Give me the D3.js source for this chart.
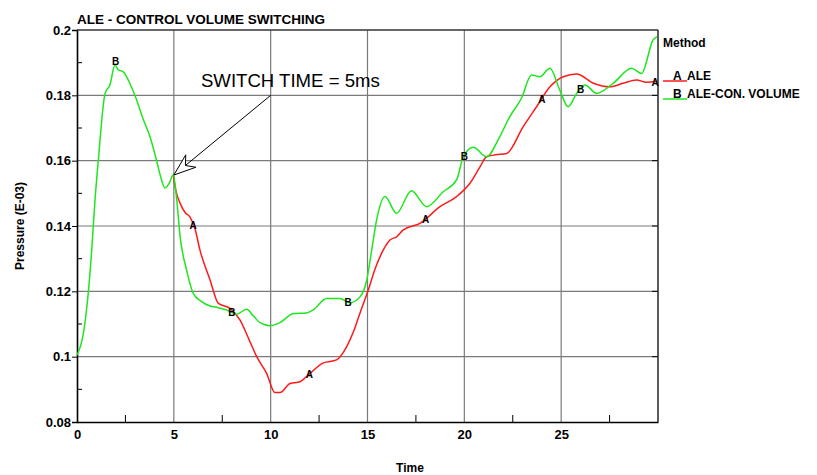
<!DOCTYPE html>
<html>
<head>
<meta charset="utf-8">
<script src="https://cdn.jsdelivr.net/npm/d3@7"></script>
<style>
  body { margin: 0; background: #fff; }
  text { font-family: "Liberation Sans", Arial, sans-serif; }
  .num { font-family: "Liberation Sans Narrow", "Liberation Sans", Arial, sans-serif; font-weight: bold; font-size: 13px; }
</style>
</head>
<body>
<div class="chart"></div>
<script>
// data
var aleTime = [4.97, 5.1, 5.32, 5.6, 5.83, 6.1, 6.35, 6.87, 7.3, 7.9, 8.42, 8.9, 9.28, 9.79, 10.22, 10.48, 11.0, 11.51, 11.94, 12.72, 13.4, 13.92, 14.3, 14.61, 15.04, 15.4, 15.81, 16.16, 16.5, 16.85, 17.71, 18.74, 19.6, 20.29, 20.8, 21.15, 21.6, 22.18, 23.04, 23.73, 24.42, 25.11, 25.8, 26.66, 27.52, 28.2, 28.89, 29.4, 29.95]
var aleValues = [0.1556, 0.151, 0.147, 0.144, 0.1428, 0.139, 0.1326, 0.1235, 0.1163, 0.1148, 0.1112, 0.105, 0.100, 0.0949, 0.089, 0.089, 0.0918, 0.0923, 0.0944, 0.0981, 0.099, 0.103, 0.108, 0.1133, 0.1204, 0.127, 0.1326, 0.1357, 0.1367, 0.1388, 0.1408, 0.1459, 0.149, 0.1531, 0.158, 0.1612, 0.1618, 0.1622, 0.1704, 0.1765, 0.1826, 0.1857, 0.1865, 0.1837, 0.1826, 0.1837, 0.1847, 0.1840, 0.1842]

var cvTime = [0, 0.33, 0.58, 0.76, 0.93, 1.1, 1.45, 1.7, 1.96, 2.13, 2.39, 2.7, 3.08, 3.4, 3.77, 4.11, 4.3, 4.54, 4.75, 4.97, 5.15, 5.32, 5.66, 6.0, 6.4, 6.87, 7.3, 7.73, 8.24, 8.76, 9.1, 9.45, 9.96, 10.48, 11.17, 11.86, 12.2, 12.89, 13.58, 14.09, 14.61, 14.96, 15.2, 15.47, 15.9, 16.5, 17.27, 18.05, 18.91, 19.6, 19.95, 20.46, 21.15, 21.8, 22.35, 22.95, 23.47, 23.9, 24.42, 24.93, 25.36, 25.8, 26.23, 26.83, 27.69, 28.64, 29.15, 29.75, 29.95]
var cvValues = [0.1005, 0.1071, 0.1194, 0.1326, 0.148, 0.160, 0.1806, 0.1832, 0.1893, 0.1878, 0.1872, 0.184, 0.1786, 0.173, 0.1673, 0.160, 0.1555, 0.1516, 0.1530, 0.1556, 0.148, 0.137, 0.1265, 0.1194, 0.117, 0.1155, 0.115, 0.1143, 0.113, 0.1145, 0.1125, 0.1104, 0.1095, 0.1104, 0.1132, 0.1134, 0.1143, 0.1178, 0.1178, 0.1165, 0.1183, 0.1234, 0.132, 0.1418, 0.149, 0.1439, 0.1508, 0.1459, 0.1505, 0.1541, 0.1612, 0.1641, 0.1612, 0.167, 0.1735, 0.1791, 0.1862, 0.1857, 0.1883, 0.1816, 0.1765, 0.1806, 0.1832, 0.1806, 0.1837, 0.1883, 0.1867, 0.197, 0.198]

var aleMarks = [6, 12, 18, 24, 30]
var cvMarks = [2, 8, 14, 20, 26]

var xTicks = [0, 5, 10, 15, 20, 25]
var xMinor = [2.5, 7.5, 12.5, 17.5, 22.5, 27.5]
var yTicks = [0.08, 0.1, 0.12, 0.14, 0.16, 0.18, 0.2]
var yTickLabels = ['0.08', '0.1', '0.12', '0.14', '0.16', '0.18', '0.2']
var yMinor = [0.09, 0.11, 0.13, 0.15, 0.17, 0.19]

var margin = {top: 30, right: 159, bottom: 53, left: 77}
var width = 817 - margin.left - margin.right
var height = 475 - margin.top - margin.bottom

var svg = d3.select('.chart')
    .append('svg')
    .attr('width', 817)
    .attr('height', 475)
    .style('display', 'block')

var g = svg.append('g')
    .attr('transform', 'translate(' + margin.left + ',' + margin.top + ')')

var xScale = d3.scaleLinear().domain([0, 30]).range([0, width])
var yScale = d3.scaleLinear().domain([0.08, 0.2]).range([height, 0])

// grid
g.selectAll('.vgrid').data(xTicks.slice(1))
    .enter().append('line')
    .attr('x1', d => xScale(d)).attr('x2', d => xScale(d))
    .attr('y1', 0).attr('y2', height)
    .attr('stroke', '#7a7a7a').attr('stroke-width', 1.2)
g.selectAll('.hgrid').data(yTicks.slice(1, -1))
    .enter().append('line')
    .attr('x1', 0).attr('x2', width)
    .attr('y1', d => yScale(d)).attr('y2', d => yScale(d))
    .attr('stroke', '#7a7a7a').attr('stroke-width', 1.2)

// minor ticks
g.selectAll('.xminor').data(xMinor)
    .enter().append('line')
    .attr('x1', d => xScale(d)).attr('x2', d => xScale(d))
    .attr('y1', height).attr('y2', height - 7)
    .attr('stroke', '#000')
g.selectAll('.yminor').data(yMinor)
    .enter().append('line')
    .attr('x1', 0).attr('x2', 5)
    .attr('y1', d => yScale(d)).attr('y2', d => yScale(d))
    .attr('stroke', '#000')
// right side ticks
g.selectAll('.rtick').data(yTicks.slice(1, -1))
    .enter().append('line')
    .attr('x1', width).attr('x2', width - 6)
    .attr('y1', d => yScale(d)).attr('y2', d => yScale(d))
    .attr('stroke', '#000')

// axes
var xAxis = d3.axisBottom(xScale)
    .tickValues(xTicks)
    .tickSize(0)
    .tickPadding(8)
    .tickFormat(d3.format('d'))
var xg = g.append('g')
    .attr('transform', 'translate(0,' + height + ')')
    .call(xAxis)
xg.select('.domain').attr('stroke', '#000').attr('stroke-width', 1.6)
xg.selectAll('text').attr('class', 'num').attr('fill', '#000')

var yAxis = d3.axisLeft(yScale)
    .tickValues(yTicks)
    .tickSize(5)
    .tickPadding(1)
    .tickFormat((d, i) => yTickLabels[i])
var yg = g.append('g').call(yAxis)
yg.select('.domain').attr('stroke', '#000').attr('stroke-width', 1.6)
yg.selectAll('line').attr('stroke', '#000')
yg.selectAll('text').attr('class', 'num').attr('fill', '#000')

// top and right border
g.append('line').attr('x1', 0).attr('x2', width).attr('y1', 0).attr('y2', 0)
    .attr('stroke', '#333').attr('stroke-width', 1.4)
g.append('line').attr('x1', width).attr('x2', width).attr('y1', 0).attr('y2', height)
    .attr('stroke', '#333').attr('stroke-width', 1.6)

// curves
var line = d3.line()
    .x(d => xScale(d[0]))
    .y(d => yScale(d[1]))
    .curve(d3.curveMonotoneX)

var aleData = d3.zip(aleTime, aleValues)
var cvData = d3.zip(cvTime, cvValues)

g.append('path').datum(aleData)
    .attr('d', line)
    .attr('fill', 'none')
    .attr('stroke', '#ff1a1a')
    .attr('stroke-width', 1.5)
g.append('path').datum(cvData)
    .attr('d', line)
    .attr('fill', 'none')
    .attr('stroke', '#1ee61e')
    .attr('stroke-width', 1.5)

function valueAt(times, values, t) {
    var i = d3.bisectLeft(times, t)
    if (i <= 0) return values[0]
    if (i >= times.length) return values[values.length - 1]
    var f = (t - times[i - 1]) / (times[i] - times[i - 1])
    return values[i - 1] + f * (values[i] - values[i - 1])
}

// letter markers along curves
g.selectAll('.amark').data(aleMarks)
    .enter().append('text')
    .attr('x', d => Math.min(xScale(d), width - 3))
    .attr('y', d => yScale(valueAt(aleTime, aleValues, d)) + 4)
    .attr('text-anchor', 'middle')
    .style('font-size', '10px').style('font-weight', 'bold')
    .text('A')
g.selectAll('.bmark').data(cvMarks)
    .enter().append('text')
    .attr('x', d => xScale(d))
    .attr('y', (d, i) => yScale(valueAt(cvTime, cvValues, d)) + (i == 0 ? -1 : 4))
    .attr('text-anchor', 'middle')
    .style('font-size', '10px').style('font-weight', 'bold')
    .text('B')

// annotation
var tipX = xScale(5), tipY = yScale(valueAt(cvTime, cvValues, 4.97))
var tailX = xScale(10), tailY = yScale(0.18)
var ang = Math.atan2(tailY - tipY, tailX - tipX)
var headLen = 22, headW = 8
var bx = tipX + headLen * Math.cos(ang), by = tipY + headLen * Math.sin(ang)
var px = -Math.sin(ang) * headW, py = Math.cos(ang) * headW
var nx = tipX + (headLen - 7) * Math.cos(ang), ny = tipY + (headLen - 7) * Math.sin(ang)
g.append('line')
    .attr('x1', tailX).attr('y1', tailY).attr('x2', nx).attr('y2', ny)
    .attr('stroke', '#000').attr('stroke-width', 1)
g.append('path')
    .attr('d', 'M' + tipX + ',' + tipY + 'L' + (bx + px) + ',' + (by + py) +
        'L' + nx + ',' + ny + 'L' + (bx - px) + ',' + (by - py) + 'Z')
    .attr('fill', '#fff').attr('stroke', '#000').attr('stroke-width', 1)
g.append('text')
    .attr('x', xScale(6.4)).attr('y', yScale(0.1826))
    .style('font-size', '18.6px')
    .text('SWITCH TIME = 5ms')

// titles
svg.append('text')
    .attr('x', margin.left).attr('y', 23.5)
    .style('font-size', '13.5px').style('font-weight', 'bold')
    .text('ALE - CONTROL VOLUME SWITCHING')
svg.append('text')
    .attr('transform', 'translate(24,' + (margin.top + height / 2) + ') rotate(-90)')
    .attr('text-anchor', 'middle')
    .style('font-size', '12px').style('font-weight', 'bold')
    .text('Pressure (E-03)')
svg.append('text')
    .attr('x', 410).attr('y', 472)
    .attr('text-anchor', 'middle')
    .style('font-size', '12px').style('font-weight', 'bold')
    .text('Time')

// legend
var lx = margin.left + width + 5
svg.append('text')
    .attr('x', lx).attr('y', 47)
    .style('font-size', '12px').style('font-weight', 'bold')
    .text('Method')
var legend = [
    {key: 'A', name: 'ALE', color: '#ff1a1a'},
    {key: 'B', name: 'ALE-CON. VOLUME', color: '#1ee61e'}
]
legend.forEach(function (d, i) {
    var y = 80 + i * 18
    svg.append('line')
        .attr('x1', lx).attr('x2', lx + 24)
        .attr('y1', y + 1).attr('y2', y + 1)
        .attr('stroke', d.color).attr('stroke-width', 1.5)
    svg.append('text')
        .attr('x', lx + 10).attr('y', y)
        .style('font-size', '12px').style('font-weight', 'bold')
        .text(d.key)
    svg.append('text')
        .attr('x', lx + 24).attr('y', y)
        .style('font-size', '12px').style('font-weight', 'bold')
        .text(d.name)
})
</script>
</body>
</html>
